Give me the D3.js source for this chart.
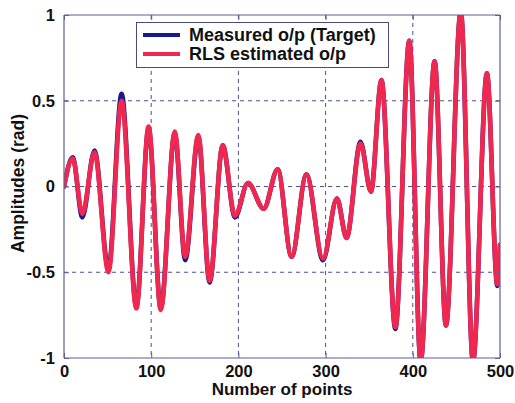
<!DOCTYPE html>
<html>
<head>
<meta charset="utf-8">
<script src="https://cdn.jsdelivr.net/npm/d3@7"></script>
<style>
  html, body { margin: 0; padding: 0; background: #fff; }
  svg { display: block; font-family: "Liberation Sans", Arial, sans-serif; font-weight: bold; }
</style>
</head>
<body>
<svg id="chart" width="515" height="403"></svg>
<script>
// Sample index of each turning point of the response
const samplePoints = [0, 10, 21, 35, 51, 66, 83, 97, 111, 127, 139, 154, 167, 182, 196, 211, 229, 245, 261, 278, 297, 313, 324, 340, 352, 364, 380, 396, 409, 425, 438, 455, 469, 485, 497, 500];
// Measured output (target), rad
const measuredOut = [0, 0.17, -0.18, 0.21, -0.48, 0.54, -0.70, 0.34, -0.71, 0.31, -0.43, 0.29, -0.56, 0.24, -0.18, 0.02, -0.13, 0.10, -0.41, 0.07, -0.43, -0.07, -0.30, 0.26, -0.03, 0.62, -0.83, 0.85, -1.02, 0.73, -0.81, 1.02, -1.02, 0.66, -0.58, -0.34];
// RLS estimated output, rad
const rlsOut = [0, 0.165, -0.16, 0.20, -0.50, 0.50, -0.71, 0.35, -0.72, 0.32, -0.41, 0.30, -0.55, 0.24, -0.17, 0.02, -0.13, 0.10, -0.41, 0.07, -0.42, -0.07, -0.30, 0.25, -0.03, 0.62, -0.82, 0.85, -1.02, 0.73, -0.81, 1.02, -1.02, 0.66, -0.57, -0.34];

const xTicks = [0, 100, 200, 300, 400, 500];
const yTicks = [-1, -0.5, 0, 0.5, 1];
const yTickLabels = ["-1", "-0.5", "0", "0.5", "1"];
const seriesNames = ["Measured o/p (Target)", "RLS estimated o/p"];
const seriesColors = ["#1a1a8e", "#f02850"];

const svg = d3.select("#chart");
const m = { left: 64, right: 15, top: 15, bottom: 45 };
const W = 515, H = 403;
const pw = W - m.left - m.right, ph = H - m.top - m.bottom;

const x = d3.scaleLinear().domain([0, 500]).range([m.left, m.left + pw]);
const y = d3.scaleLinear().domain([-1, 1]).range([m.top + ph, m.top]);

const frameColor = "#5f5f98";
const gridColor = "#4e4e92";

// grid lines
const g = svg.append("g");
g.selectAll(".gx").data(xTicks.filter(d => d > 0 && d < 500)).enter().append("line")
  .attr("x1", d => x(d)).attr("x2", d => x(d))
  .attr("y1", m.top).attr("y2", m.top + ph)
  .attr("stroke", gridColor).attr("stroke-width", 1).attr("stroke-dasharray", "4,4");
g.selectAll(".gy").data(yTicks.filter(d => d > -1 && d < 1)).enter().append("line")
  .attr("x1", m.left).attr("x2", m.left + pw)
  .attr("y1", d => y(d)).attr("y2", d => y(d))
  .attr("stroke", gridColor).attr("stroke-width", 1).attr("stroke-dasharray", "4,4");

// clip for the traces
svg.append("defs").append("clipPath").attr("id", "plotclip")
  .append("rect").attr("x", m.left).attr("y", m.top).attr("width", pw).attr("height", ph);

const line = d3.line().curve(d3.curveMonotoneX)
  .x((d, i) => x(samplePoints[i])).y(d => y(d));

const traces = svg.append("g").attr("clip-path", "url(#plotclip)");
[measuredOut, rlsOut].forEach((s, k) => {
  traces.append("path").attr("d", line(s))
    .attr("fill", "none").attr("stroke", seriesColors[k])
    .attr("stroke-width", 4.6).attr("stroke-linejoin", "round").attr("stroke-linecap", "round");
});

// axes with inward ticks
const axB = d3.axisBottom(x).tickValues(xTicks).tickSize(-5).tickPadding(7).tickFormat(d3.format("d"));
const axT = d3.axisTop(x).tickValues(xTicks).tickSize(-5).tickFormat("");
const axL = d3.axisLeft(y).tickValues(yTicks).tickSize(-5).tickPadding(9).tickFormat((d, i) => yTickLabels[i]);
const axR = d3.axisRight(y).tickValues(yTicks).tickSize(-5).tickFormat("");

function styleAxis(sel) {
  sel.select(".domain").attr("stroke", frameColor).attr("stroke-width", 1.2);
  sel.selectAll(".tick line").attr("stroke", frameColor);
  sel.selectAll(".tick text").attr("fill", "#111").attr("font-size", 16.5)
    .attr("font-family", "Liberation Sans, Arial, sans-serif").attr("font-weight", "bold");
}
svg.append("g").attr("transform", `translate(0,${m.top + ph})`).call(axB).call(styleAxis)
  .selectAll(".domain").attr("d", `M${m.left},0H${m.left + pw}`);
svg.append("g").attr("transform", `translate(0,${m.top})`).call(axT).call(styleAxis)
  .selectAll(".domain").attr("d", `M${m.left},0H${m.left + pw}`);
svg.append("g").attr("transform", `translate(${m.left},0)`).call(axL).call(styleAxis)
  .selectAll(".domain").attr("d", `M0,${m.top}V${m.top + ph}`);
svg.append("g").attr("transform", `translate(${m.left + pw},0)`).call(axR).call(styleAxis)
  .selectAll(".domain").attr("d", `M0,${m.top}V${m.top + ph}`);

// axis titles
svg.append("text").attr("x", x(250)).attr("y", 395).attr("text-anchor", "middle")
  .attr("font-size", 17).attr("fill", "#111").text("Number of points");
svg.append("text").attr("transform", `translate(24,${y(0) - 3}) rotate(-90)`)
  .attr("text-anchor", "middle").attr("font-size", 17.5).attr("fill", "#111")
  .text("Amplitudes (rad)");

// legend
const lg = svg.append("g");
lg.append("rect").attr("x", 136.5).attr("y", 22.5).attr("width", 252).attr("height", 45)
  .attr("fill", "#fff").attr("stroke", "#4a4a80").attr("stroke-width", 1);
seriesNames.forEach((name, i) => {
  const yy = 35 + i * 19;
  lg.append("line").attr("x1", 143).attr("x2", 180).attr("y1", yy).attr("y2", yy)
    .attr("stroke", seriesColors[i]).attr("stroke-width", 4.2);
  lg.append("text").attr("x", 189).attr("y", yy + 6).attr("font-size", 18)
    .attr("fill", "#111").text(name);
});
</script>
</body>
</html>
